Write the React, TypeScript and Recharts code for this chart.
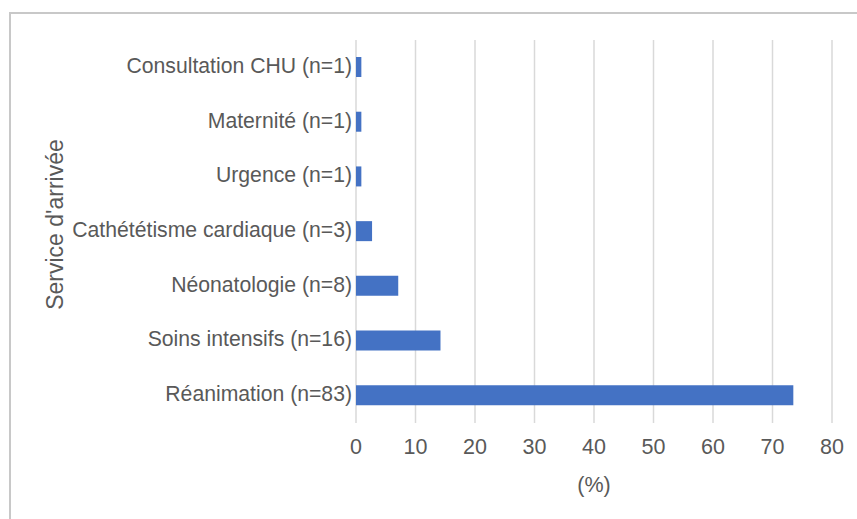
import React from 'react';
import { BarChart, Bar, XAxis, YAxis, CartesianGrid } from 'recharts';

const categories = [
  'Consultation CHU (n=1)',
  'Maternité (n=1)',
  'Urgence (n=1)',
  'Cathététisme cardiaque (n=3)',
  'Néonatologie (n=8)',
  'Soins intensifs (n=16)',
  'Réanimation (n=83)',
];
const percents = [0.9, 0.9, 0.9, 2.7, 7.1, 14.2, 73.5];
const xTicks = [0, 10, 20, 30, 40, 50, 60, 70, 80];

const data = categories.map((c, i) => ({ name: c, value: percents[i] }));

const FONT = '"Liberation Sans", Arial, Helvetica, sans-serif';
const TEXT = '#595959';

const YTitle = (props: any) => {
  const vb = props.viewBox || { x: 0, y: 0, width: 0, height: 0 };
  const cx = vb.x + 55;
  const cy = vb.y + vb.height / 2 - 7;
  return (
    <text
      x={cx}
      y={cy}
      transform={`rotate(-90, ${cx}, ${cy})`}
      textAnchor="middle"
      dominantBaseline="central"
      fill={TEXT}
      fontSize={23}
      fontFamily={FONT}
    >
      Service d'arrivée
    </text>
  );
};

export default function App() {
  return (
    <div style={{ position: 'absolute', left: 0, top: 0, width: 857, height: 519, background: '#fff' }}>
      <div
        style={{
          position: 'absolute',
          left: 9,
          top: 12,
          width: 860,
          height: 520,
          borderTop: '2px solid #c8c8c8',
          borderLeft: '2px solid #c8c8c8',
        }}
      />
      <div style={{ position: 'absolute', left: 0, top: 0 }}>
        <BarChart
          width={857}
          height={519}
          data={data}
          layout="vertical"
          margin={{ top: 40, right: 25, bottom: 56, left: 0 }}
          barCategoryGap={0}
        >
          <CartesianGrid horizontal={false} vertical={true} stroke="#d9d9d9" strokeWidth={1.5} />
          <XAxis
            type="number"
            domain={[0, 80]}
            ticks={xTicks}
            axisLine={false}
            tickLine={false}
            tickMargin={10}
            height={40}
            tick={{ fill: TEXT, fontSize: 21.5, fontFamily: FONT }}
            label={{ value: '(%)', position: 'bottom', offset: 14, fill: TEXT, fontSize: 21.5, fontFamily: FONT }}
          />
          <YAxis
            type="category"
            dataKey="name"
            width={356}
            axisLine={false}
            tickLine={false}
            tickSize={0}
            tickMargin={4}
            interval={0}
            tick={{ fill: TEXT, fontSize: 21.2, fontFamily: FONT, dy: -2 }}
            label={<YTitle />}
          />
          <Bar dataKey="value" fill="#4472C4" barSize={20} isAnimationActive={false} />
        </BarChart>
      </div>
    </div>
  );
}
